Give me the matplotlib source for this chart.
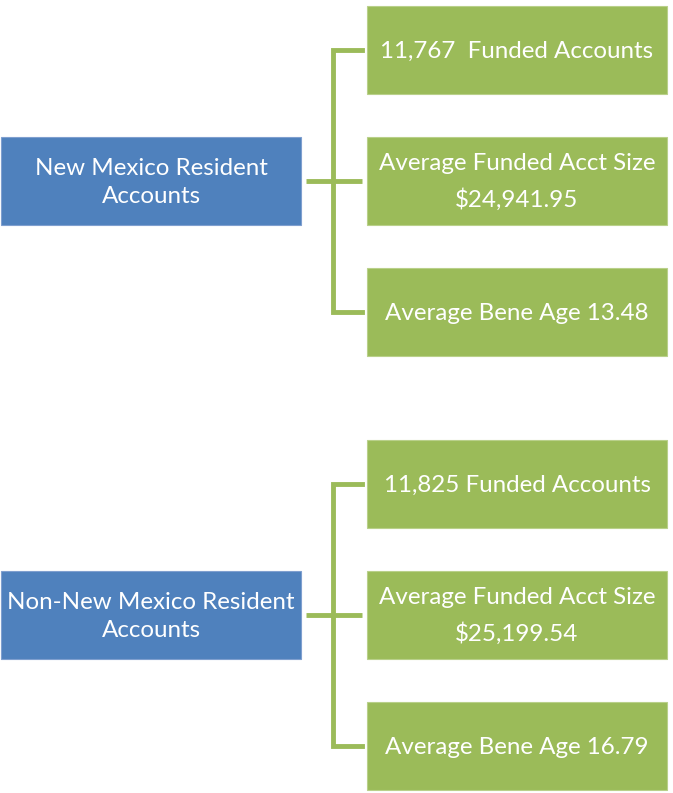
import matplotlib.pyplot as plt
from matplotlib.patches import Rectangle

# data
groups = ["New Mexico Resident\nAccounts", "Non-New Mexico Resident\nAccounts"]
details = [
    ["11,767  Funded Accounts", "Average Funded Acct Size\n$24,941.95", "Average Bene Age 13.48"],
    ["11,825 Funded Accounts", "Average Funded Acct Size\n$25,199.54", "Average Bene Age 16.79"],
]

blue = "#4F81BD"
green = "#9BBB59"
plt.rcParams['font.family'] = ['Lato', 'DejaVu Sans']

fig = plt.figure(figsize=(6.73, 7.93), dpi=100)
ax = fig.add_axes([0, 0, 1, 1])
ax.set_xlim(0, 673)
ax.set_ylim(793, 0)
ax.axis("off")

box_h = 88
gap = 43
group_top = [6, 440]
fs = 17.4

for g, top in enumerate(group_top):
    tops = [top + i * (box_h + gap) for i in range(3)]
    mids = [t + box_h / 2 for t in tops]

    # parent box
    ax.add_patch(Rectangle((1, tops[1]), 300, box_h, facecolor=blue,
                           edgecolor="#7F9FCF", lw=0.8))
    ax.text(151, mids[1] + 1.5, groups[g], color="white", fontsize=fs,
            ha="center", va="center", linespacing=1.4)

    # connectors
    ax.plot([306, 333], [mids[1], mids[1]], color=green, lw=3.5, solid_capstyle="butt")
    ax.plot([362, 333, 333, 362], [mids[0], mids[0], mids[2], mids[2]],
            color=green, lw=3.5, solid_joinstyle="miter")
    ax.plot([333, 362], [mids[1], mids[1]], color=green, lw=3.5, solid_capstyle="butt")

    # child boxes
    for i in range(3):
        ax.add_patch(Rectangle((367, tops[i]), 300, box_h, facecolor=green,
                               edgecolor="#B9D08A", lw=0.8))
        ax.text(517, mids[i] + 1, details[g][i], color="white", fontsize=fs,
                ha="center", va="center", linespacing=1.8)

fig.savefig("out.png", dpi=100)
